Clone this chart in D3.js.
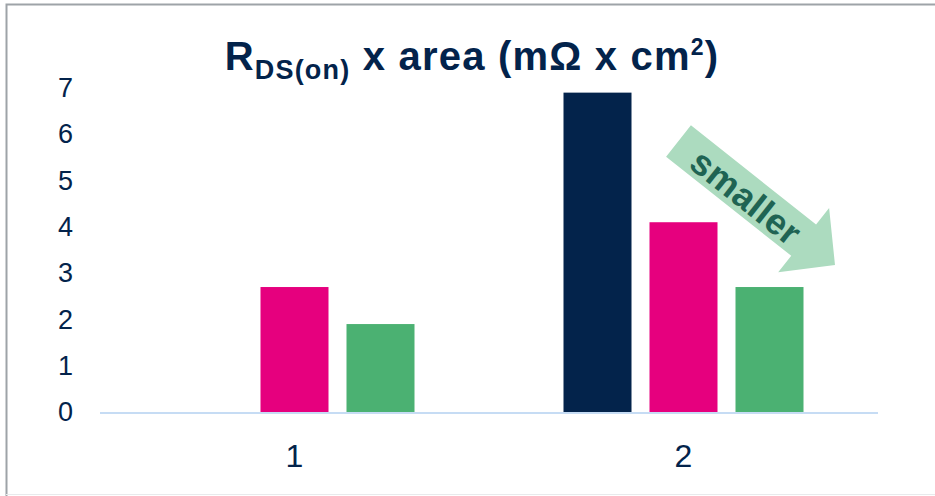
<!DOCTYPE html>
<html>
<head>
<meta charset="utf-8">
<script src="https://cdn.jsdelivr.net/npm/d3@7"></script>
<style>
  body { margin: 0; background: #fff; }
  text { font-family: "Liberation Sans", Arial, sans-serif; }
</style>
</head>
<body>
<svg id="chart"></svg>
<script>
// chart data
const categories = ["1", "2"];
const seriesNames = ["a", "b", "c"];
const seriesA = [0, 6.9];
const seriesB = [2.7, 4.1];
const seriesC = [1.9, 2.7];
const yTicks = [0, 1, 2, 3, 4, 5, 6, 7];

const colors = ["#03234B", "#E6007E", "#4BB172"];
const navy = "#03234B";

const width = 935, height = 496;
const svg = d3.select("#chart").attr("width", width).attr("height", height);

svg.append("rect").attr("width", width).attr("height", height).attr("fill", "#fff");

// frame
svg.append("path")
    .attr("d", `M6.5,${height} V4.5 H${width}`)
    .attr("fill", "none")
    .attr("stroke", "#9EA3A8")
    .attr("stroke-width", 2);
svg.append("line")
    .attr("x1", 6).attr("x2", width).attr("y1", 494.5).attr("y2", 494.5)
    .attr("stroke", "#E8EAEC").attr("stroke-width", 1);

const margin = { left: 100, right: 57, top: 88, bottom: 84 };

const x0 = d3.scaleBand()
    .domain(categories)
    .range([margin.left, width - margin.right])
    .padding(0);

const groupWidth = 240;
const x1 = d3.scaleBand()
    .domain(seriesNames)
    .range([0, groupWidth])
    .paddingInner(18 / 86);

const y = d3.scaleLinear()
    .domain([0, 7])
    .range([height - margin.bottom, margin.top]);

// build rows from arrays
const rows = categories.map((c, i) => ({
    cat: c,
    values: [seriesA[i], seriesB[i], seriesC[i]]
}));

// y axis labels
const yAxis = d3.axisLeft(y).tickValues(yTicks).tickFormat(d3.format("d")).tickSize(0).tickPadding(27);
const gy = svg.append("g")
    .attr("transform", `translate(${margin.left},0)`)
    .call(yAxis);
gy.select(".domain").remove();
gy.selectAll("text")
    .attr("font-size", "27px")
    .attr("fill", navy)
    .style("font-family", "Liberation Sans, Arial, sans-serif");

// bars
const groups = svg.selectAll(".grp")
    .data(rows)
    .enter()
    .append("g")
    .attr("class", "grp")
    .attr("transform", d => `translate(${x0(d.cat) + (x0.bandwidth() - groupWidth) / 2},0)`);

groups.selectAll("rect")
    .data(d => d.values.map((v, i) => ({ v: v, s: seriesNames[i], i: i })))
    .enter()
    .append("rect")
    .attr("x", d => x1(d.s))
    .attr("width", x1.bandwidth())
    .attr("y", d => y(d.v))
    .attr("height", d => y(0) - y(d.v))
    .attr("fill", d => colors[d.i]);

// baseline
svg.append("line")
    .attr("x1", margin.left).attr("x2", width - margin.right)
    .attr("y1", y(0) + 1).attr("y2", y(0) + 1)
    .attr("stroke", "#C6DCF4")
    .attr("stroke-width", 2);

// x axis labels
const xAxis = d3.axisBottom(x0).tickSize(0).tickPadding(32);
const gx = svg.append("g")
    .attr("transform", `translate(0,${y(0)})`)
    .call(xAxis);
gx.select(".domain").remove();
gx.selectAll("text")
    .attr("font-size", "32px")
    .attr("fill", navy)
    .style("font-family", "Liberation Sans, Arial, sans-serif");

// title
const title = svg.append("text")
    .attr("x", 472)
    .attr("y", 70)
    .attr("text-anchor", "middle")
    .attr("font-weight", "bold")
    .attr("font-size", "40px")
    .attr("letter-spacing", "1.2px")
    .attr("fill", navy);
title.append("tspan").text("R");
title.append("tspan").attr("font-size", "27px").attr("dy", 9).text("DS(on)");
title.append("tspan").attr("dy", -9).text(" x area (mΩ x cm");
title.append("tspan").attr("font-size", "23px").attr("dy", -15).text("2");
title.append("tspan").attr("dy", 15).text(")");

// "smaller" arrow annotation
const tail = [678.5, 141], tip = [835, 265];
const ang = Math.atan2(tip[1] - tail[1], tip[0] - tail[0]) * 180 / Math.PI;
const len = Math.hypot(tip[0] - tail[0], tip[1] - tail[1]);
const shaftHalf = 20, headHalf = 41, headLen = 40;
const arrow = svg.append("g")
    .attr("transform", `translate(${tail[0]},${tail[1]}) rotate(${ang})`);
arrow.append("path")
    .attr("d", d3.line()([
        [0, -shaftHalf], [len - headLen, -shaftHalf], [len - headLen, -headHalf],
        [len, 0],
        [len - headLen, headHalf], [len - headLen, shaftHalf], [0, shaftHalf]
    ]) + "Z")
    .attr("fill", "#ACDBBF");
arrow.append("text")
    .attr("x", 88)
    .attr("y", 2)
    .attr("dy", "0.35em")
    .attr("text-anchor", "middle")
    .attr("font-weight", "bold")
    .attr("font-size", "36px")
    .attr("letter-spacing", "0.5px")
    .attr("fill", "#1F6453")
    .text("smaller");
</script>
</body>
</html>
